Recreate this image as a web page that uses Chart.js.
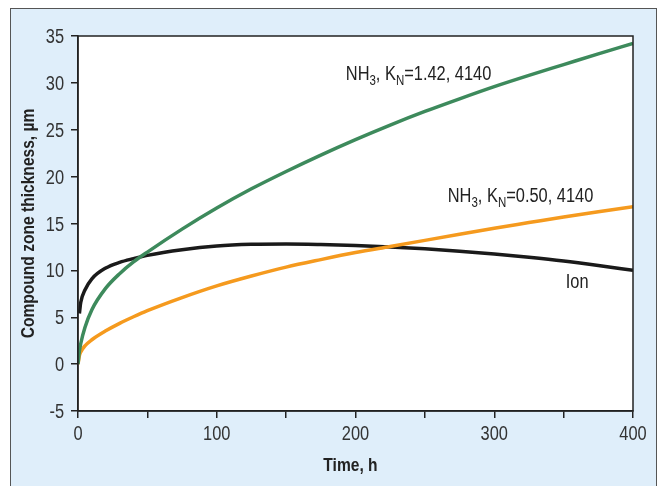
<!DOCTYPE html>
<html>
<head>
<meta charset="utf-8">
<script src="https://cdn.jsdelivr.net/npm/chart.js@4"></script>
<style>
  html, body { margin: 0; padding: 0; background: #ffffff; }
  #wrap { width: 661px; height: 486px; }
</style>
</head>
<body>
<div id="wrap"><canvas id="chart" width="661" height="486"></canvas></div>
<script>
"use strict";

// time axis, h
const time_h = [0, 1, 2, 5, 10, 20, 30, 40, 50, 75, 100, 125, 150, 175, 200, 225, 250, 275, 300, 325, 350, 375, 400];

// compound zone thickness, µm
const nh3_142 = [0, 1.4, 2.2, 3.9, 5.8, 8.1, 9.65, 10.9, 11.95, 14.4, 16.65, 18.7, 20.55, 22.3, 23.95, 25.5, 26.95, 28.3, 29.6, 30.8, 31.95, 33.1, 34.2];
const nh3_050 = [0, 0.9, 1.3, 1.95, 2.6, 3.55, 4.35, 5.05, 5.7, 7.1, 8.35, 9.4, 10.35, 11.15, 11.9, 12.55, 13.2, 13.85, 14.5, 15.1, 15.7, 16.25, 16.8];
const ion = [null, 5.4, 6.6, 7.9, 9.1, 10.25, 10.85, 11.25, 11.6, 12.2, 12.6, 12.78, 12.82, 12.76, 12.65, 12.5, 12.3, 12.05, 11.75, 11.4, 11.0, 10.52, 10.0];

const x_ticks = [0, 100, 200, 300, 400];
const x_minor = [0, 50, 100, 150, 200, 250, 300, 350, 400];
const y_ticks = [-5, 0, 5, 10, 15, 20, 25, 30, 35];

const x_title = "Time, h";
const y_title = "Compound zone thickness, µm";

const font_family = "'Liberation Sans', Arial, sans-serif";
const squeeze = 0.82; // condensed look

function to_points(values) {
  return values.map((v, i) => ({ x: time_h[i], y: v }));
}

// narrow text: regular font pressed sideways
function narrow_text(ctx, text, x, y, align, font, angle) {
  ctx.save();
  ctx.translate(x, y);
  if (angle) ctx.rotate(angle);
  ctx.scale(squeeze, 1);
  ctx.font = font;
  ctx.textAlign = align;
  ctx.fillText(text, 0, 0);
  ctx.restore();
}

function narrow_width(ctx, text, font) {
  ctx.save();
  ctx.font = font;
  const w = ctx.measureText(text).width * squeeze;
  ctx.restore();
  return w;
}

// blue box behind everything + frame of the plot area
const frame_plugin = {
  id: "frame_plugin",
  beforeDraw(chart) {
    const ctx = chart.ctx;
    ctx.save();
    ctx.fillStyle = "#ffffff";
    ctx.fillRect(0, 0, chart.width, chart.height);
    ctx.fillStyle = "#dfeefa";
    ctx.fillRect(10, 8, 646, chart.height);
    ctx.strokeStyle = "#555555";
    ctx.lineWidth = 1;
    ctx.strokeRect(10.5, 8.5, 646, chart.height + 10);
    const a = chart.chartArea;
    ctx.fillStyle = "#ffffff";
    ctx.fillRect(a.left, a.top, a.right - a.left, a.bottom - a.top);
    ctx.restore();
  },
  afterDatasetsDraw(chart) {
    const ctx = chart.ctx;
    const a = chart.chartArea;
    ctx.save();
    ctx.strokeStyle = "#222222";
    ctx.lineWidth = 1.5;
    ctx.strokeRect(a.left, a.top, a.right - a.left, a.bottom - a.top);
    ctx.restore();
  },
};

// tick labels and axis titles
const axis_text_plugin = {
  id: "axis_text_plugin",
  afterDraw(chart) {
    const ctx = chart.ctx;
    const sx = chart.scales.x;
    const sy = chart.scales.y;
    const a = chart.chartArea;
    const tick_font = `20px ${font_family}`;
    ctx.save();
    ctx.fillStyle = "#333333";
    ctx.textBaseline = "alphabetic";
    for (const v of y_ticks) {
      narrow_text(ctx, String(v), a.left - 14, sy.getPixelForValue(v) + 7, "right", tick_font);
    }
    for (const v of x_ticks) {
      narrow_text(ctx, String(v), sx.getPixelForValue(v), a.bottom + 29, "center", tick_font);
    }
    ctx.fillStyle = "#222222";
    const title_font = `bold 19px ${font_family}`;
    narrow_text(ctx, x_title, (a.left + a.right) / 2 - 5, 471, "center", title_font);
    narrow_text(ctx, y_title, 34, (a.top + a.bottom) / 2, "center", title_font, -Math.PI / 2);
    ctx.restore();
  },
};

// curve labels with subscripts
function draw_parts(ctx, x, y, parts) {
  for (const p of parts) {
    const font = p.sub ? `14px ${font_family}` : `20px ${font_family}`;
    narrow_text(ctx, p.t, x, p.sub ? y + 5 : y, "left", font);
    x += narrow_width(ctx, p.t, font);
  }
}

const label_plugin = {
  id: "label_plugin",
  afterDatasetsDraw(chart) {
    const ctx = chart.ctx;
    const sx = chart.scales.x;
    const sy = chart.scales.y;
    ctx.save();
    ctx.fillStyle = "#222222";
    ctx.textBaseline = "alphabetic";
    draw_parts(ctx, sx.getPixelForValue(193), sy.getPixelForValue(30.3), [
      { t: "NH" }, { t: "3", sub: true }, { t: ", K" }, { t: "N", sub: true }, { t: "=1.42, 4140" },
    ]);
    draw_parts(ctx, sx.getPixelForValue(266.5), sy.getPixelForValue(17.3), [
      { t: "NH" }, { t: "3", sub: true }, { t: ", K" }, { t: "N", sub: true }, { t: "=0.50, 4140" },
    ]);
    draw_parts(ctx, sx.getPixelForValue(351.5), sy.getPixelForValue(8.1), [{ t: "Ion" }]);
    ctx.restore();
  },
};

const data = {
  datasets: [
    { label: "NH3, KN=1.42, 4140", data: to_points(nh3_142), borderColor: "#3d8a5c" },
    { label: "NH3, KN=0.50, 4140", data: to_points(nh3_050), borderColor: "#f59a1e" },
    { label: "Ion", data: to_points(ion), borderColor: "#1a1a1a" },
  ],
};

const config = {
  type: "line",
  data: data,
  options: {
    responsive: false,
    animation: false,
    layout: { padding: { left: 0, top: 36, right: 28, bottom: 0 } },
    elements: {
      line: { borderWidth: 3.5, cubicInterpolationMode: "monotone", fill: false },
      point: { radius: 0 },
    },
    plugins: {
      legend: { display: false },
      tooltip: { enabled: false },
    },
    scales: {
      x: {
        type: "linear",
        min: 0,
        max: 400,
        afterFit: (scale) => { scale.height = 75; },
        afterBuildTicks: (scale) => {
          scale.ticks = x_minor.map((v) => ({ value: v }));
        },
        ticks: { display: false, autoSkip: false },
        grid: { drawOnChartArea: false, drawTicks: true, tickLength: 7, color: "#222222", lineWidth: 1.5 },
        border: { display: true, color: "#222222", width: 1.5 },
      },
      y: {
        type: "linear",
        min: -5,
        max: 35,
        afterFit: (scale) => { scale.width = 78; },
        afterBuildTicks: (scale) => {
          scale.ticks = y_ticks.map((v) => ({ value: v }));
        },
        ticks: { display: false, autoSkip: false },
        grid: { drawOnChartArea: false, drawTicks: true, tickLength: 7, color: "#222222", lineWidth: 1.5 },
        border: { display: true, color: "#222222", width: 1.5 },
      },
    },
  },
  plugins: [frame_plugin, label_plugin, axis_text_plugin],
};

new Chart(document.getElementById("chart"), config);
</script>
</body>
</html>
